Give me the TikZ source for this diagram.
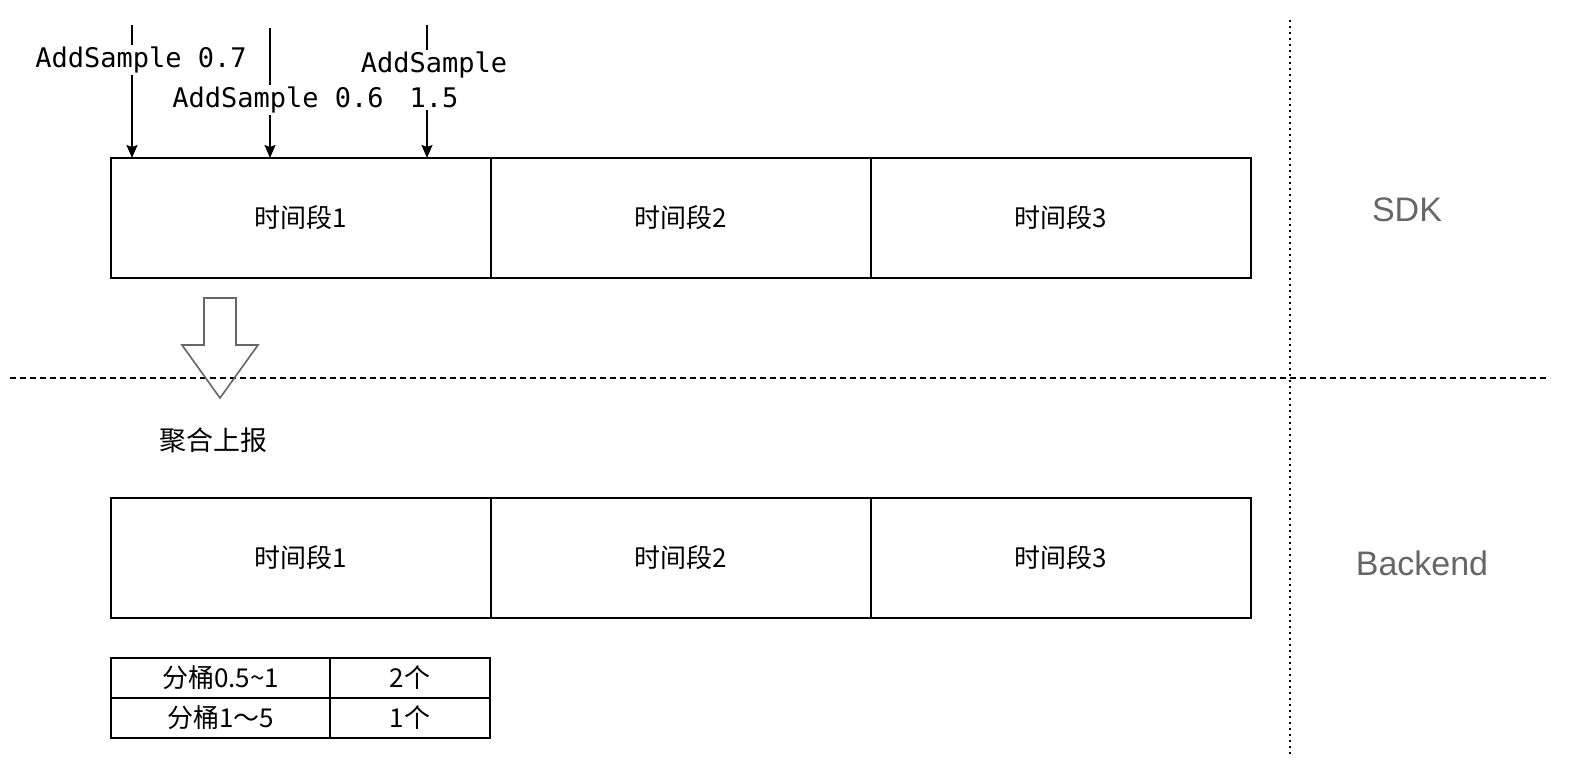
\documentclass[tikz,border=0pt]{standalone}
\usepackage{fontspec}
\setmainfont{Liberation Sans}
\newfontfamily\cjk{Noto Sans CJK SC}
\newfontfamily\mono{DejaVu Sans Mono}
\usetikzlibrary{positioning,arrows.meta}
\definecolor{sidegray}{HTML}{666666}
\tikzset{
	segbox/.style={draw, line width=1pt, outer sep=0pt, minimum width=190pt, minimum height=60pt, font=\cjk\fontsize{13}{15}\selectfont},
	cellbox/.style={draw, line width=1pt, outer sep=0pt, minimum height=20pt, font=\cjk\fontsize{13}{15}\selectfont},
	sample/.style={fill=white, inner sep=1pt, font=\mono\fontsize{13.5}{17.5}\selectfont, align=center},
	side/.style={text=sidegray, font=\fontsize{17}{20}\selectfont},
	feed/.style={line width=0.75pt, -{Stealth[length=6.5pt,width=5.5pt,inset=1pt]}}
}
\begin{document}
\begin{tikzpicture}[x=0.5pt, y=-0.5pt]
			%%%%% START %%%%%
			\useasboundingbox (0,0) rectangle (1570,776);
			
			% dividers
			\draw[line width=1pt, dotted] (1290, 20) -- (1290, 757);
			\draw[line width=0.8pt, dash pattern=on 3pt off 2pt] (10, 378) -- (1550, 378);
			
			% SDK segments
			\node[segbox] (up1) at (300.5, 218) {时间段1};
			\node[segbox, right=0pt of up1] (up2) {时间段2};
			\node[segbox, right=0pt of up2] (up3) {时间段3};
			\node[side] (sdk) at (1407, 210) {SDK};
			
			% samples
			\coordinate (in1) at (132, 25);
			\coordinate (in2) at (270, 28);
			\coordinate (in3) at (427, 25);
			\draw[feed] (in1) -- (in1 |- up1.north);
			\draw[feed] (in2) -- (in2 |- up1.north);
			\draw[feed] (in3) -- (in3 |- up1.north);
			\node[sample] (s1) at (141, 60) {AddSample 0.7};
			\node[sample] (s3) at (434, 80) {AddSample\\1.5};
			\node[sample] (s2) at (278, 100) {AddSample 0.6};
			
			% report arrow
			\draw[line width=0.8pt, color=sidegray] (204, 298) -- (236, 298) -- (236, 345) -- (258, 345) -- (220, 398) -- (182, 345) -- (204, 345) -- cycle;
			\node[font=\cjk\fontsize{13.5}{15}\selectfont] (report) at (213, 440) {聚合上报};
			
			% Backend segments
			\node[segbox] (down1) at (300.5, 558) {时间段1};
			\node[segbox, right=0pt of down1] (down2) {时间段2};
			\node[segbox, right=0pt of down2] (down3) {时间段3};
			\node[side] (backend) at (1422, 563) {Backend};
			
			% buckets
			\node[cellbox, minimum width=109.5pt] (b1) at (220.5, 678) {分桶0.5\char"007E 1};
			\node[cellbox, minimum width=80pt, right=0pt of b1] (c1) {2个};
			\node[cellbox, minimum width=109.5pt, below=0pt of b1] (b2) {分桶1～5};
			\node[cellbox, minimum width=80pt, right=0pt of b2] (c2) {1个};
			
			%%%%% END %%%%%
\end{tikzpicture}
\end{document}
